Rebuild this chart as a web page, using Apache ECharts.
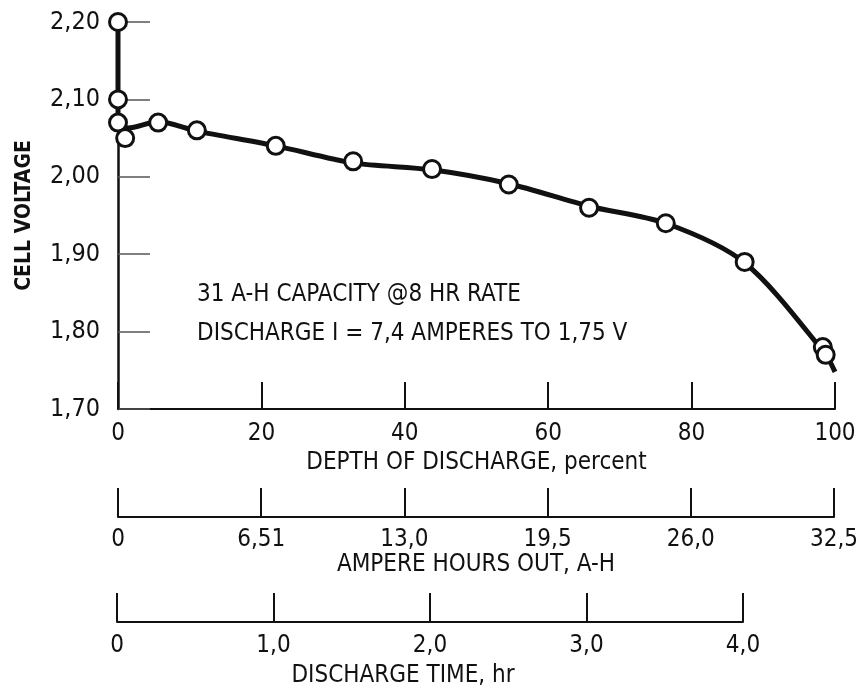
<!DOCTYPE html>
<html>
<head>
<meta charset="utf-8">
<script src="https://cdn.jsdelivr.net/npm/echarts@6/dist/echarts.min.js"></script>
<style>
html,body{margin:0;padding:0;background:#fff;}
#chart{width:861px;height:689px;}
</style>
</head>
<body>
<div id="chart"></div>
<script>
// ---- data ----
// measured points (depth of discharge %, cell voltage V)
var pointDepth   = [0,    0,    0,    1.0,  5.6,  11.0, 22.0, 32.8, 43.8, 54.5, 65.7, 76.4, 87.4, 98.3, 98.7];
var pointVoltage = [2.20, 2.10, 2.07, 2.05, 2.07, 2.06, 2.04, 2.02, 2.01, 1.99, 1.96, 1.94, 1.89, 1.78, 1.77];
// faired curve through the points
var curveDepth   = [0,    0,     1.4,   5.6,   11.0,  22.0, 32.8,  43.8,  54.5,  65.7,  76.4, 87.4,  98.5,  100];
var curveVoltage = [2.20, 2.07,  2.063, 2.071, 2.059, 2.04, 2.018, 2.009, 1.991, 1.962, 1.94, 1.889, 1.773, 1.748];
// tick labels
var voltTickLabels  = ['1,70','1,80','1,90','2,00','2,10','2,20'];
var depthTickLabels = ['0','20','40','60','80','100'];
var ampTickLabels   = ['0','6,51','13,0','19,5','26,0','32,5'];
var timeTickLabels  = ['0','1,0','2,0','3,0','4,0'];
var noteLines = ['31 A-H CAPACITY @8 HR RATE', 'DISCHARGE I = 7,4 AMPERES TO 1,75 V'];

var FONT = '"Liberation Sans Narrow", "DejaVu Sans Condensed", "Roboto Condensed", "Liberation Sans", sans-serif';
var INK = '#111';

function pick(labels, step, min) {
  return function (v) {
    var i = Math.round((v - min) / step);
    return labels[i] !== undefined ? labels[i] : '';
  };
}

var chart = echarts.init(document.getElementById('chart'), null, {renderer: 'canvas'});

var points = pointDepth.map(function (d, i) { return [d, pointVoltage[i]]; });
var curve = curveDepth.map(function (d, i) { return [d, curveVoltage[i]]; });
var curveRise = curve.slice(0, 2);   // vertical drop at zero depth
var curveRun = curve.slice(1);       // faired discharge curve

function lowerAxis(gridIndex, max, interval, labels, name, nameGap, margin, namePad) {
  return {
    type: 'value', gridIndex: gridIndex, position: 'bottom',
    min: 0, max: max, interval: interval,
    axisLine: {show: true, lineStyle: {color: INK, width: 2}},
    axisTick: {show: true, inside: true, length: 29, lineStyle: {color: INK, width: 2}},
    splitLine: {show: false},
    axisLabel: {show: true, margin: margin, color: INK, fontFamily: FONT, fontSize: 24,
                formatter: pick(labels, interval, 0)},
    name: name, nameLocation: 'middle', nameGap: nameGap,
    nameTextStyle: {color: INK, fontFamily: FONT, fontSize: 24, padding: namePad || 0}
  };
}

var option = {
  backgroundColor: '#fff',
  animation: false,
  grid: [
    {left: 118, right: 26, top: 22, bottom: 280},
    {left: 118, right: 26, top: 487, height: 30},
    {left: 117, right: 118, top: 593, height: 30}
  ],
  xAxis: [
    {
      type: 'value', gridIndex: 0, min: 0, max: 100, interval: 20,
      axisLine: {show: true, onZero: false, lineStyle: {color: INK, width: 2}},
      axisTick: {show: true, inside: true, length: 27, lineStyle: {color: INK, width: 2}},
      splitLine: {show: false},
      axisLabel: {margin: 13, color: INK, fontFamily: FONT, fontSize: 24,
                  formatter: pick(depthTickLabels, 20, 0)},
      name: 'DEPTH OF DISCHARGE, percent', nameLocation: 'middle', nameGap: 42,
      nameTextStyle: {color: INK, fontFamily: FONT, fontSize: 24}
    },
    lowerAxis(1, 32.5, 6.5, ampTickLabels, 'AMPERE HOURS OUT, A-H', 33, 11),
    lowerAxis(2, 4, 1, timeTickLabels, 'DISCHARGE TIME, hr', 42, 12, [0, 54, 0, 0])
  ],
  yAxis: [
    {
      type: 'value', gridIndex: 0, min: 1.7, max: 2.2, interval: 0.1,
      axisLine: {show: true, onZero: false, lineStyle: {color: INK, width: 2.5}},
      axisTick: {show: true, inside: true, length: 32, lineStyle: {color: '#555', width: 1.5}},
      splitLine: {show: false},
      axisLabel: {margin: 18, color: INK, fontFamily: FONT, fontSize: 25,
                  formatter: pick(voltTickLabels, 0.1, 1.7)},
      name: 'CELL VOLTAGE', nameLocation: 'middle', nameGap: 83, nameRotate: 90,
      nameTextStyle: {color: INK, fontFamily: FONT, fontSize: 21, fontWeight: 'bold'}
    },
    {type: 'value', gridIndex: 1, min: 0, max: 1, show: false},
    {type: 'value', gridIndex: 2, min: 0, max: 1, show: false}
  ],
  graphic: [
    {type: 'text', left: 197, top: 283,
     style: {text: noteLines[0], fill: INK, font: '24px ' + FONT}},
    {type: 'text', left: 197, top: 322,
     style: {text: noteLines[1], fill: INK, font: '24px ' + FONT}}
  ],
  series: [
    {
      type: 'line', xAxisIndex: 0, yAxisIndex: 0, data: curveRise,
      showSymbol: false, symbol: 'none',
      lineStyle: {color: INK, width: 5}, z: 2
    },
    {
      type: 'line', xAxisIndex: 0, yAxisIndex: 0, data: curveRun,
      smooth: 0.3, showSymbol: false, symbol: 'none',
      lineStyle: {color: INK, width: 5}, z: 2
    },
    {
      type: 'scatter', xAxisIndex: 0, yAxisIndex: 0, data: points,
      symbol: 'circle', symbolSize: 17,
      itemStyle: {color: '#fff', borderColor: INK, borderWidth: 3, opacity: 1}, z: 3
    }
  ]
};
chart.setOption(option);
</script>
</body>
</html>
